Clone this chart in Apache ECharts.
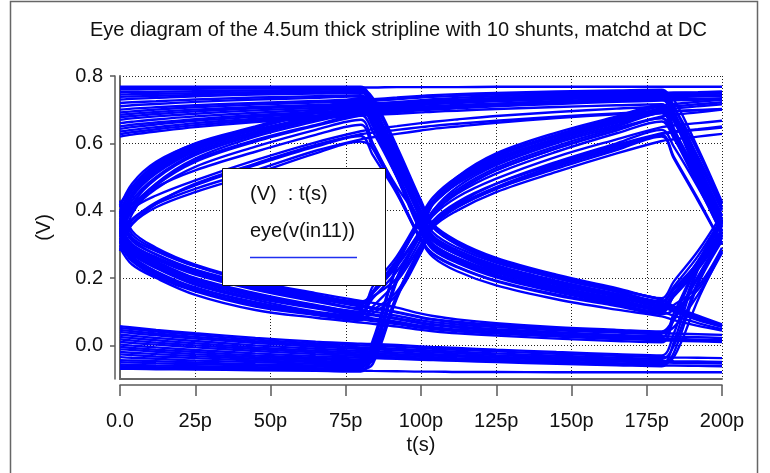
<!DOCTYPE html>
<html>
<head>
<meta charset="utf-8">
<script src="https://cdn.jsdelivr.net/npm/echarts@6/dist/echarts.min.js"></script>
<style>
  html, body { margin: 0; padding: 0; background: #ffffff; }
  #chart { width: 770px; height: 473px; }
</style>
</head>
<body>
<div id="chart"></div>
<script>
// Sample instants (ps) shared by every trace of the folded waveform
const timePoints = [0, 4, 12, 25, 45, 65, 80, 84, 92, 100, 104, 112, 125, 145, 165, 180, 184, 192, 200];

// Tick labels
const xTicks = [0, 25, 50, 75, 100, 125, 150, 175, 200];
const yTicks = [0.0, 0.2, 0.4, 0.6, 0.8];

// Traces that open with a rising arm (0 -> 1 transition at t = 0)
const risingStart = [
  [0.36, 0.45, 0.52, 0.585, 0.64, 0.68, 0.71, 0.66, 0.51, 0.36, 0.31, 0.27, 0.225, 0.18, 0.145, 0.115, 0.155, 0.235, 0.33],
  [0.38, 0.46, 0.53, 0.59, 0.645, 0.69, 0.725, 0.70, 0.565, 0.415, 0.35, 0.30, 0.25, 0.20, 0.16, 0.128, 0.175, 0.265, 0.38],
  [0.33, 0.40, 0.465, 0.53, 0.59, 0.64, 0.67, 0.60, 0.46, 0.315, 0.27, 0.232, 0.19, 0.148, 0.117, 0.093, 0.105, 0.165, 0.28],
  [0.35, 0.43, 0.50, 0.57, 0.63, 0.675, 0.70, 0.65, 0.50, 0.355, 0.30, 0.26, 0.218, 0.173, 0.14, 0.115, 0.10, 0.075, 0.055],
  [0.31, 0.37, 0.425, 0.475, 0.535, 0.59, 0.622, 0.565, 0.45, 0.31, 0.262, 0.22, 0.178, 0.137, 0.106, 0.086, 0.075, 0.058, 0.044],
  [0.40, 0.46, 0.525, 0.59, 0.645, 0.695, 0.73, 0.705, 0.57, 0.42, 0.355, 0.305, 0.255, 0.205, 0.165, 0.135, 0.115, 0.085, 0.06],
  [0.34, 0.41, 0.48, 0.55, 0.61, 0.655, 0.685, 0.635, 0.50, 0.35, 0.30, 0.26, 0.215, 0.17, 0.135, 0.108, 0.145, 0.225, 0.325],
  [0.37, 0.42, 0.47, 0.52, 0.575, 0.625, 0.655, 0.585, 0.455, 0.315, 0.272, 0.234, 0.192, 0.151, 0.12, 0.098, 0.15, 0.25, 0.37],
  [0.42, 0.47, 0.54, 0.60, 0.65, 0.70, 0.735, 0.685, 0.53, 0.375, 0.32, 0.28, 0.235, 0.19, 0.153, 0.125, 0.108, 0.082, 0.058],
  [0.30, 0.36, 0.41, 0.455, 0.51, 0.57, 0.605, 0.585, 0.47, 0.37, 0.315, 0.27, 0.222, 0.175, 0.138, 0.11, 0.148, 0.23, 0.33],
  [0.28, 0.39, 0.48, 0.555, 0.62, 0.665, 0.695, 0.70, 0.707, 0.714, 0.717, 0.722, 0.728, 0.736, 0.742, 0.745, 0.695, 0.54, 0.385],
  [0.36, 0.44, 0.51, 0.575, 0.63, 0.675, 0.705, 0.71, 0.716, 0.722, 0.725, 0.729, 0.735, 0.742, 0.747, 0.75, 0.751, 0.752, 0.754],
  [0.39, 0.47, 0.535, 0.595, 0.648, 0.692, 0.722, 0.726, 0.731, 0.736, 0.738, 0.741, 0.745, 0.75, 0.753, 0.755, 0.73, 0.585, 0.425],
  [0.32, 0.40, 0.475, 0.545, 0.605, 0.652, 0.683, 0.688, 0.695, 0.702, 0.705, 0.71, 0.717, 0.726, 0.732, 0.736, 0.737, 0.739, 0.741],
  [0.35, 0.405, 0.445, 0.49, 0.55, 0.603, 0.636, 0.642, 0.651, 0.66, 0.664, 0.671, 0.681, 0.693, 0.703, 0.708, 0.64, 0.485, 0.34],
  [0.29, 0.36, 0.42, 0.48, 0.54, 0.595, 0.627, 0.632, 0.64, 0.648, 0.652, 0.658, 0.667, 0.679, 0.689, 0.695, 0.696, 0.699, 0.702],
  [0.41, 0.48, 0.545, 0.598, 0.648, 0.695, 0.728, 0.731, 0.736, 0.741, 0.743, 0.746, 0.75, 0.754, 0.757, 0.759, 0.71, 0.555, 0.40],
  [0.34, 0.42, 0.495, 0.565, 0.625, 0.67, 0.698, 0.703, 0.71, 0.717, 0.72, 0.725, 0.731, 0.739, 0.745, 0.748, 0.749, 0.75, 0.752],
  [0.37, 0.445, 0.515, 0.58, 0.635, 0.68, 0.712, 0.716, 0.722, 0.728, 0.731, 0.735, 0.74, 0.746, 0.75, 0.753, 0.685, 0.515, 0.36],
  [0.33, 0.375, 0.42, 0.465, 0.52, 0.578, 0.612, 0.618, 0.628, 0.638, 0.643, 0.65, 0.661, 0.675, 0.686, 0.693, 0.695, 0.698, 0.701]
];

// Traces that open with a falling arm (1 -> 0 transition at t = 0)
const fallingStart = [
  [0.34, 0.29, 0.25, 0.20, 0.155, 0.12, 0.10, 0.14, 0.22, 0.33, 0.40, 0.47, 0.535, 0.60, 0.65, 0.69, 0.64, 0.505, 0.36],
  [0.36, 0.30, 0.26, 0.215, 0.17, 0.135, 0.11, 0.175, 0.265, 0.385, 0.44, 0.50, 0.565, 0.625, 0.675, 0.71, 0.685, 0.56, 0.41],
  [0.32, 0.27, 0.23, 0.185, 0.14, 0.11, 0.09, 0.105, 0.16, 0.28, 0.355, 0.41, 0.465, 0.53, 0.585, 0.625, 0.56, 0.435, 0.30],
  [0.38, 0.31, 0.27, 0.225, 0.18, 0.145, 0.12, 0.155, 0.235, 0.34, 0.42, 0.49, 0.56, 0.62, 0.67, 0.705, 0.71, 0.716, 0.722],
  [0.33, 0.28, 0.235, 0.19, 0.145, 0.115, 0.095, 0.16, 0.255, 0.375, 0.43, 0.495, 0.56, 0.625, 0.675, 0.712, 0.717, 0.723, 0.73],
  [0.31, 0.26, 0.215, 0.17, 0.125, 0.095, 0.08, 0.095, 0.15, 0.275, 0.35, 0.40, 0.455, 0.515, 0.57, 0.607, 0.612, 0.62, 0.628],
  [0.40, 0.32, 0.28, 0.235, 0.19, 0.15, 0.125, 0.16, 0.24, 0.345, 0.425, 0.50, 0.57, 0.632, 0.68, 0.715, 0.665, 0.52, 0.37],
  [0.35, 0.285, 0.24, 0.195, 0.15, 0.115, 0.09, 0.155, 0.25, 0.37, 0.42, 0.48, 0.54, 0.605, 0.655, 0.69, 0.62, 0.475, 0.33],
  [0.30, 0.25, 0.205, 0.16, 0.115, 0.09, 0.075, 0.115, 0.19, 0.30, 0.37, 0.425, 0.48, 0.54, 0.595, 0.63, 0.635, 0.642, 0.65],
  [0.42, 0.33, 0.285, 0.235, 0.185, 0.15, 0.13, 0.145, 0.20, 0.315, 0.39, 0.455, 0.52, 0.585, 0.638, 0.675, 0.625, 0.49, 0.35],
  [0.37, 0.295, 0.255, 0.21, 0.165, 0.13, 0.105, 0.10, 0.088, 0.074, 0.069, 0.062, 0.054, 0.045, 0.038, 0.034, 0.074, 0.20, 0.32],
  [0.33, 0.275, 0.23, 0.18, 0.135, 0.10, 0.085, 0.08, 0.07, 0.058, 0.054, 0.047, 0.04, 0.031, 0.024, 0.02, 0.019, 0.017, 0.015],
  [0.29, 0.24, 0.20, 0.15, 0.105, 0.082, 0.068, 0.064, 0.056, 0.046, 0.042, 0.036, 0.029, 0.02, 0.013, 0.009, 0.08, 0.24, 0.37],
  [0.39, 0.315, 0.27, 0.222, 0.175, 0.14, 0.115, 0.11, 0.097, 0.082, 0.076, 0.068, 0.059, 0.049, 0.041, 0.037, 0.035, 0.033, 0.031],
  [0.35, 0.30, 0.262, 0.218, 0.172, 0.14, 0.118, 0.112, 0.099, 0.084, 0.078, 0.07, 0.061, 0.051, 0.043, 0.039, 0.054, 0.15, 0.275],
  [0.32, 0.265, 0.22, 0.172, 0.128, 0.098, 0.082, 0.077, 0.067, 0.055, 0.051, 0.045, 0.037, 0.028, 0.021, 0.017, 0.016, 0.014, 0.012],
  [0.43, 0.34, 0.29, 0.24, 0.19, 0.155, 0.132, 0.126, 0.112, 0.094, 0.087, 0.077, 0.066, 0.054, 0.046, 0.041, 0.08, 0.205, 0.325],
  [0.36, 0.29, 0.245, 0.198, 0.152, 0.118, 0.097, 0.092, 0.081, 0.068, 0.063, 0.056, 0.048, 0.039, 0.031, 0.027, 0.026, 0.024, 0.022],
  [0.34, 0.28, 0.238, 0.192, 0.148, 0.116, 0.094, 0.089, 0.078, 0.065, 0.06, 0.053, 0.045, 0.036, 0.028, 0.024, 0.095, 0.245, 0.375],
  [0.31, 0.255, 0.21, 0.165, 0.12, 0.092, 0.077, 0.072, 0.063, 0.052, 0.048, 0.042, 0.035, 0.026, 0.019, 0.015, 0.014, 0.012, 0.01]
];

// Traces that open in a run of ones
const highStart = [
  [0.768, 0.768, 0.768, 0.768, 0.768, 0.768, 0.768, 0.718, 0.56, 0.40, 0.335, 0.29, 0.245, 0.20, 0.16, 0.13, 0.165, 0.245, 0.345],
  [0.76, 0.76, 0.761, 0.762, 0.763, 0.764, 0.765, 0.695, 0.52, 0.35, 0.295, 0.254, 0.21, 0.166, 0.131, 0.105, 0.12, 0.175, 0.29],
  [0.752, 0.752, 0.753, 0.755, 0.757, 0.759, 0.76, 0.735, 0.59, 0.43, 0.36, 0.31, 0.26, 0.21, 0.17, 0.14, 0.19, 0.28, 0.39],
  [0.745, 0.746, 0.747, 0.749, 0.752, 0.754, 0.756, 0.705, 0.55, 0.39, 0.325, 0.283, 0.238, 0.192, 0.152, 0.122, 0.106, 0.08, 0.058],
  [0.738, 0.739, 0.741, 0.744, 0.748, 0.751, 0.753, 0.685, 0.51, 0.345, 0.29, 0.249, 0.206, 0.162, 0.127, 0.10, 0.088, 0.066, 0.048],
  [0.73, 0.732, 0.735, 0.74, 0.745, 0.748, 0.75, 0.725, 0.58, 0.425, 0.355, 0.305, 0.255, 0.205, 0.165, 0.135, 0.116, 0.088, 0.062],
  [0.72, 0.722, 0.725, 0.73, 0.736, 0.74, 0.743, 0.693, 0.54, 0.385, 0.318, 0.277, 0.232, 0.186, 0.148, 0.118, 0.155, 0.235, 0.335],
  [0.71, 0.713, 0.717, 0.723, 0.73, 0.735, 0.74, 0.67, 0.50, 0.335, 0.284, 0.245, 0.202, 0.158, 0.123, 0.098, 0.15, 0.25, 0.37],
  [0.70, 0.703, 0.707, 0.713, 0.72, 0.726, 0.73, 0.68, 0.53, 0.375, 0.312, 0.272, 0.228, 0.183, 0.146, 0.117, 0.102, 0.077, 0.056],
  [0.692, 0.695, 0.70, 0.707, 0.715, 0.721, 0.725, 0.70, 0.57, 0.415, 0.35, 0.30, 0.25, 0.20, 0.16, 0.13, 0.168, 0.245, 0.34],
  [0.685, 0.688, 0.693, 0.70, 0.708, 0.714, 0.718, 0.719, 0.722, 0.725, 0.726, 0.728, 0.731, 0.735, 0.738, 0.74, 0.69, 0.54, 0.385],
  [0.678, 0.681, 0.687, 0.695, 0.704, 0.71, 0.715, 0.717, 0.72, 0.724, 0.725, 0.728, 0.732, 0.737, 0.741, 0.744, 0.745, 0.746, 0.748],
  [0.67, 0.674, 0.68, 0.688, 0.698, 0.705, 0.71, 0.712, 0.716, 0.72, 0.722, 0.725, 0.73, 0.736, 0.741, 0.744, 0.675, 0.505, 0.35],
  [0.66, 0.664, 0.671, 0.68, 0.691, 0.699, 0.705, 0.707, 0.711, 0.715, 0.717, 0.72, 0.725, 0.731, 0.736, 0.739, 0.74, 0.741, 0.743],
  [0.65, 0.655, 0.662, 0.672, 0.684, 0.693, 0.70, 0.702, 0.705, 0.709, 0.711, 0.714, 0.718, 0.724, 0.728, 0.731, 0.706, 0.575, 0.42],
  [0.643, 0.648, 0.656, 0.667, 0.679, 0.689, 0.695, 0.697, 0.701, 0.705, 0.707, 0.711, 0.716, 0.722, 0.727, 0.73, 0.731, 0.732, 0.734],
  [0.635, 0.64, 0.648, 0.66, 0.673, 0.683, 0.69, 0.692, 0.697, 0.702, 0.704, 0.708, 0.713, 0.72, 0.726, 0.73, 0.68, 0.53, 0.375],
  [0.627, 0.633, 0.642, 0.654, 0.668, 0.679, 0.686, 0.688, 0.693, 0.698, 0.70, 0.704, 0.71, 0.717, 0.723, 0.727, 0.728, 0.729, 0.731],
  [0.62, 0.626, 0.635, 0.648, 0.663, 0.674, 0.682, 0.684, 0.688, 0.692, 0.694, 0.697, 0.702, 0.708, 0.713, 0.716, 0.645, 0.485, 0.34],
  [0.762, 0.762, 0.763, 0.764, 0.765, 0.766, 0.766, 0.766, 0.767, 0.767, 0.767, 0.767, 0.768, 0.768, 0.768, 0.768, 0.768, 0.768, 0.768]
];

// Traces that open in a run of zeros
const lowStart = [
  [-0.07, -0.07, -0.071, -0.072, -0.074, -0.076, -0.078, -0.035, 0.19, 0.33, 0.39, 0.45, 0.51, 0.575, 0.63, 0.665, 0.615, 0.49, 0.355],
  [-0.064, -0.065, -0.066, -0.068, -0.07, -0.073, -0.075, 0.0, 0.235, 0.37, 0.42, 0.48, 0.545, 0.61, 0.66, 0.695, 0.67, 0.55, 0.405],
  [-0.057, -0.058, -0.06, -0.062, -0.065, -0.068, -0.07, -0.055, 0.14, 0.285, 0.355, 0.41, 0.465, 0.525, 0.58, 0.62, 0.555, 0.43, 0.30],
  [-0.05, -0.051, -0.053, -0.056, -0.06, -0.063, -0.065, -0.025, 0.195, 0.33, 0.385, 0.44, 0.495, 0.56, 0.612, 0.648, 0.653, 0.66, 0.667],
  [-0.044, -0.045, -0.047, -0.051, -0.056, -0.06, -0.062, 0.005, 0.235, 0.375, 0.425, 0.485, 0.55, 0.612, 0.663, 0.698, 0.703, 0.71, 0.716],
  [-0.035, -0.037, -0.04, -0.045, -0.05, -0.055, -0.058, -0.045, 0.145, 0.29, 0.36, 0.415, 0.47, 0.535, 0.59, 0.628, 0.633, 0.64, 0.647],
  [-0.027, -0.029, -0.033, -0.038, -0.045, -0.05, -0.054, -0.015, 0.20, 0.335, 0.395, 0.455, 0.52, 0.585, 0.64, 0.675, 0.625, 0.50, 0.36],
  [-0.02, -0.022, -0.026, -0.032, -0.04, -0.046, -0.05, 0.015, 0.24, 0.38, 0.43, 0.49, 0.555, 0.615, 0.665, 0.70, 0.63, 0.48, 0.33],
  [-0.012, -0.014, -0.019, -0.026, -0.035, -0.041, -0.046, -0.01, 0.20, 0.335, 0.40, 0.462, 0.527, 0.592, 0.645, 0.68, 0.685, 0.692, 0.70],
  [-0.005, -0.008, -0.013, -0.02, -0.03, -0.037, -0.042, -0.03, 0.15, 0.295, 0.365, 0.42, 0.48, 0.545, 0.60, 0.64, 0.59, 0.47, 0.34],
  [0.002, -0.001, -0.006, -0.014, -0.024, -0.032, -0.037, -0.038, -0.04, -0.043, -0.044, -0.046, -0.05, -0.055, -0.059, -0.062, -0.022, 0.18, 0.31],
  [0.01, 0.007, 0.002, -0.006, -0.017, -0.026, -0.032, -0.033, -0.036, -0.039, -0.04, -0.042, -0.046, -0.052, -0.057, -0.06, -0.06, -0.061, -0.062],
  [0.018, 0.014, 0.008, 0.0, -0.011, -0.021, -0.027, -0.028, -0.031, -0.034, -0.035, -0.038, -0.042, -0.048, -0.053, -0.056, 0.01, 0.225, 0.36],
  [0.025, 0.021, 0.015, 0.006, -0.006, -0.016, -0.022, -0.023, -0.026, -0.029, -0.03, -0.033, -0.037, -0.043, -0.048, -0.051, -0.052, -0.053, -0.054],
  [0.032, 0.028, 0.022, 0.013, 0.0, -0.01, -0.017, -0.018, -0.021, -0.025, -0.026, -0.029, -0.034, -0.04, -0.045, -0.048, -0.035, 0.135, 0.28],
  [0.04, 0.036, 0.03, 0.02, 0.007, -0.004, -0.011, -0.012, -0.015, -0.019, -0.021, -0.024, -0.029, -0.036, -0.042, -0.046, -0.047, -0.048, -0.049],
  [0.046, 0.042, 0.035, 0.025, 0.012, 0.001, -0.006, -0.007, -0.01, -0.014, -0.016, -0.019, -0.024, -0.031, -0.037, -0.041, -0.002, 0.19, 0.32],
  [0.052, 0.048, 0.041, 0.031, 0.017, 0.006, 0.0, -0.001, -0.004, -0.008, -0.01, -0.013, -0.018, -0.025, -0.031, -0.035, -0.036, -0.037, -0.038],
  [0.057, 0.053, 0.046, 0.036, 0.022, 0.011, 0.005, 0.004, 0.001, -0.003, -0.005, -0.008, -0.013, -0.02, -0.026, -0.03, 0.035, 0.235, 0.365],
  [-0.062, -0.063, -0.065, -0.067, -0.07, -0.073, -0.075, -0.076, -0.077, -0.078, -0.078, -0.079, -0.079, -0.08, -0.08, -0.08, -0.08, -0.08, -0.08]
];

const FONT = '"Liberation Sans", Arial, Helvetica, sans-serif';
const TRACE_COLOR = '#0000ff';
const AXIS_GREY = '#5a5a5a';
const TEXT_SIZE = 20;

const allTraces = [].concat(risingStart, fallingStart, highStart, lowStart);

const series = allTraces.map(function (trace) {
  return {
    name: 'eye(v(in11))',
    type: 'line',
    xAxisIndex: 0,
    yAxisIndex: 0,
    data: timePoints.map(function (t, i) { return [t, trace[i]]; }),
    showSymbol: false,
    smooth: 0.35,
    silent: true,
    animation: false,
    lineStyle: { color: TRACE_COLOR, width: 2.4 },
    z: 2
  };
});

const chart = echarts.init(document.getElementById('chart'), null, { renderer: 'canvas' });

chart.setOption({
  backgroundColor: '#ffffff',
  animation: false,
  title: {
    text: 'Eye diagram of the 4.5um thick stripline with 10 shunts, matchd at DC',
    left: 85,
    top: 15,
    textStyle: { fontFamily: FONT, fontSize: TEXT_SIZE, fontWeight: 'normal', color: '#111' }
  },
  grid: { left: 120, right: 48, top: 76, bottom: 94, containLabel: false },
  xAxis: [
    {
      type: 'value', min: 0, max: 200, interval: 25, position: 'bottom', offset: 6,
      axisLine: { show: true, onZero: false, lineStyle: { color: AXIS_GREY, width: 1.5 } },
      axisTick: { show: true, length: 11, customValues: xTicks, lineStyle: { color: AXIS_GREY, width: 1.5 } },
      axisLabel: {
        customValues: xTicks, margin: 26, fontFamily: FONT, fontSize: TEXT_SIZE, color: '#111',
        formatter: function (v) { return Number(v) === 0 ? '0.0' : v + 'p'; }
      },
      splitLine: { show: true, lineStyle: { color: '#222', width: 1, type: [1, 2] } },
      name: 't(s)', nameLocation: 'middle', nameGap: 49,
      nameTextStyle: { fontFamily: FONT, fontSize: TEXT_SIZE, color: '#111' }
    },
    {
      type: 'value', min: 0, max: 200, position: 'bottom', offset: 0,
      axisLine: { show: true, onZero: false, lineStyle: { color: '#666', width: 2 } },
      axisTick: { show: false }, axisLabel: { show: false }, splitLine: { show: false }
    }
  ],
  yAxis: [
    {
      type: 'value', min: -0.1, max: 0.8, position: 'left', offset: 5,
      axisLine: { show: true, onZero: false, lineStyle: { color: AXIS_GREY, width: 1.5 } },
      axisTick: { show: true, length: 5, customValues: yTicks, lineStyle: { color: AXIS_GREY, width: 1.5 } },
      axisLabel: {
        customValues: yTicks, margin: 12, fontFamily: FONT, fontSize: TEXT_SIZE, color: '#111',
        formatter: function (v) { return Number(v).toFixed(1); }
      },
      splitLine: { show: true, lineStyle: { color: '#222', width: 1, type: [1, 2] } },
      name: '(V)', nameLocation: 'middle', nameGap: 61, nameRotate: 90,
      nameTextStyle: { fontFamily: FONT, fontSize: TEXT_SIZE, color: '#111' }
    },
    {
      type: 'value', min: -0.1, max: 0.8, position: 'left', offset: 0,
      axisLine: { show: true, onZero: false, lineStyle: { color: '#666', width: 2 } },
      axisTick: { show: false }, axisLabel: { show: false }, splitLine: { show: false }
    }
  ],
  graphic: [
    // outer frame
    {
      type: 'rect', z: 100, silent: true,
      shape: { x: 10.5, y: 1.5, width: 747, height: 480 },
      style: { fill: 'none', stroke: '#666', lineWidth: 1.5 }
    },
    // legend box
    {
      type: 'group', z: 100, silent: true,
      children: [
        {
          type: 'rect', z: 100,
          shape: { x: 222.5, y: 168.5, width: 163, height: 117 },
          style: { fill: '#ffffff', stroke: '#111', lineWidth: 1 }
        },
        {
          type: 'text', z: 101, x: 250, y: 194,
          style: { text: '(V)  : t(s)', fontFamily: FONT, fontSize: TEXT_SIZE, fill: '#111', verticalAlign: 'middle', align: 'left' }
        },
        {
          type: 'text', z: 101, x: 250, y: 231,
          style: { text: 'eye(v(in11))', fontFamily: FONT, fontSize: TEXT_SIZE, fill: '#111', verticalAlign: 'middle', align: 'left' }
        },
        {
          type: 'line', z: 101,
          shape: { x1: 250, y1: 257.5, x2: 357, y2: 257.5 },
          style: { stroke: '#1f2ff0', lineWidth: 1.3 }
        }
      ]
    }
  ],
  series: series
});
</script>
</body>
</html>
